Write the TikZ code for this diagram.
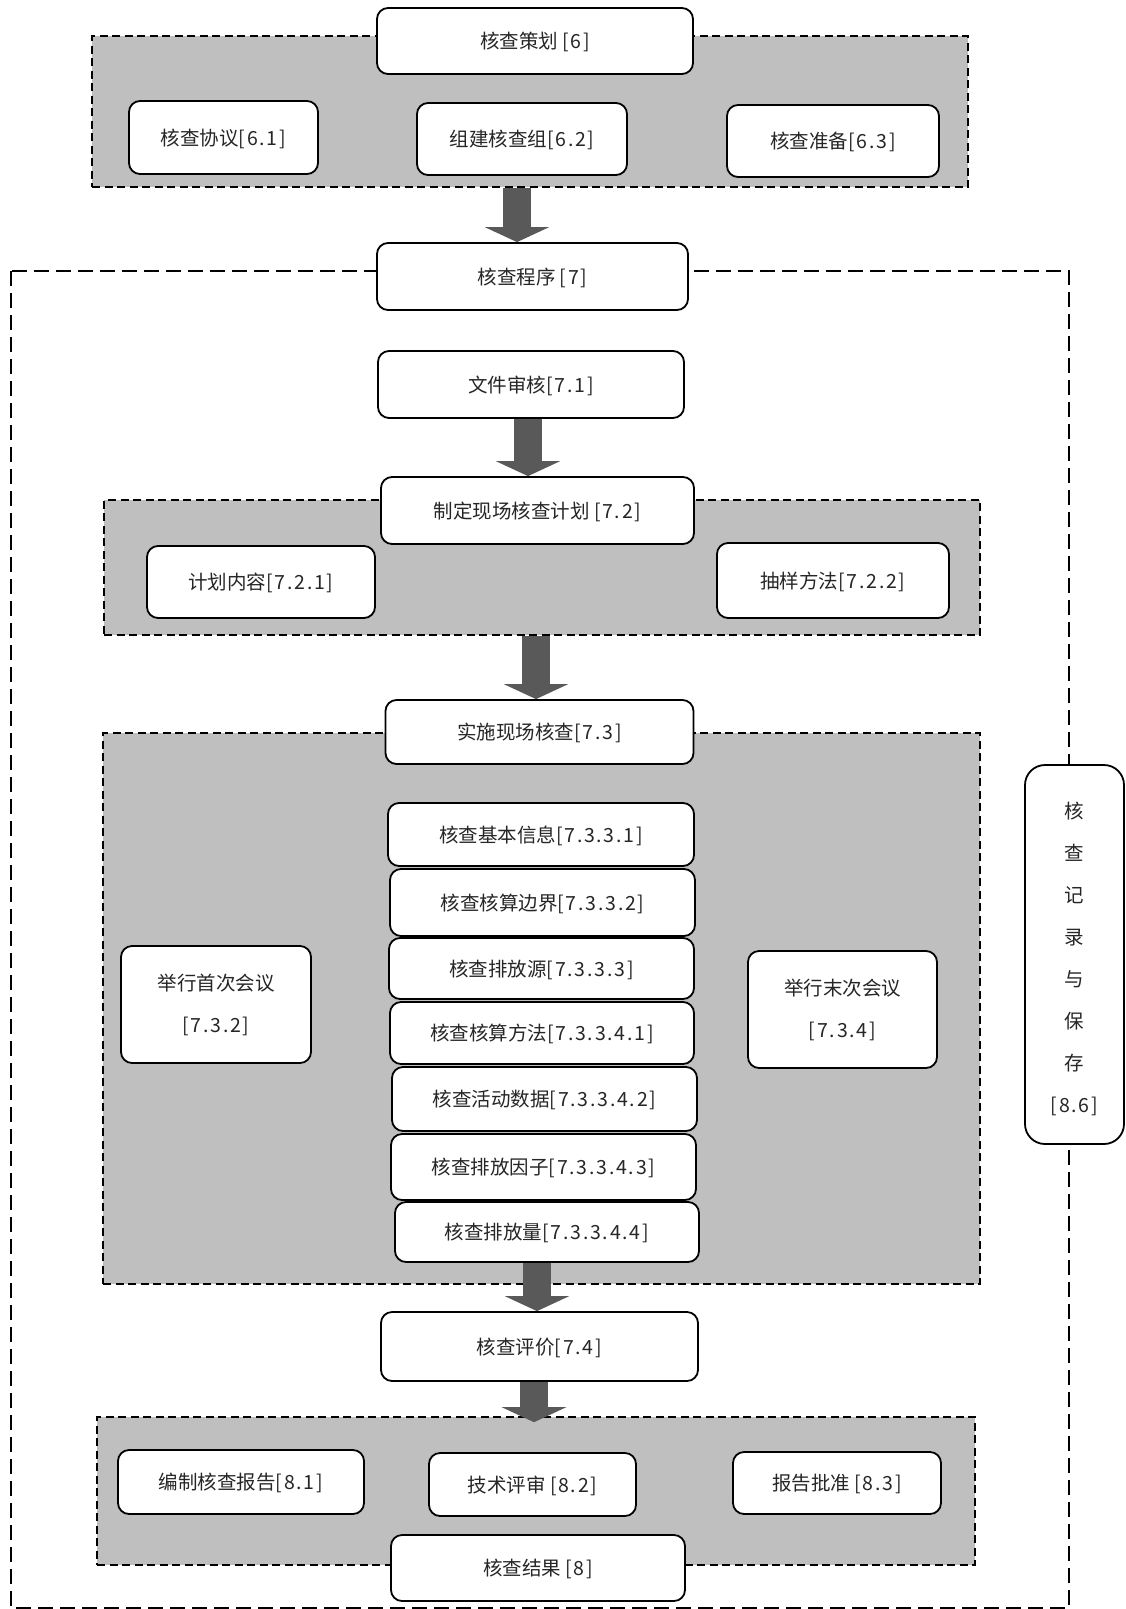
\documentclass[tikz,border=0pt]{standalone}
\usepackage{fontspec}
\setmainfont{Noto Sans CJK SC}
\newfontfamily\numfont[LetterSpace=9]{Noto Sans CJK SC}
\newcommand\numtxt[1]{{\numfont #1}}
\usetikzlibrary{arrows.meta}
\definecolor{panelgray}{HTML}{BFBFBF}
\definecolor{arrowgray}{HTML}{595959}
\definecolor{txt}{HTML}{262626}
\begin{document}
\begin{tikzpicture}[x=1pt,y=-1pt,
  rbox/.style={draw=black, line width=1.8pt, fill=white, rounded corners=11pt, inner sep=0pt,
    font=\fontsize{19.5}{24}\selectfont, text=txt, align=center},
  box/.style={rbox, text height=1.56em, text depth=0pt},
  tallbox/.style={rbox, font=\fontsize{19.5}{42}\selectfont},
  panel/.style={draw=black, line width=1.6pt, fill=panelgray, dash pattern=on 8pt off 4.5pt, inner sep=0pt},
  outerbox/.style={draw=black, line width=1.6pt, dash pattern=on 15pt off 7pt},
  bigarrow/.style={draw=arrowgray, line width=28pt, -{Triangle[length=15pt,width=64pt]}},
]
\useasboundingbox (0,0) rectangle (1126,1609);

% outer dashed frame
\draw[outerbox] (11,271) rectangle (1069,1608);

% gray panels
\node[panel, minimum width=876, minimum height=151] (p1) at (530,111.5) {};
\node[panel, minimum width=876, minimum height=135] (p2) at (542,567.5) {};
\node[panel, minimum width=877, minimum height=551] (p3) at (541.5,1008.5) {};
\node[panel, minimum width=878, minimum height=148] (p4) at (536,1491) {};

% arrow axes
\coordinate (ax1) at (517,0);
\coordinate (ax2) at (528,0);
\coordinate (ax3) at (536,0);
\coordinate (ax4) at (537,0);
\coordinate (ax5) at (534,0);

% planning
\node[box, minimum width=316, minimum height=66] (plan) at (535,41) {核查策划 \numtxt{[6]}};
\node[box, minimum width=189, minimum height=73] (a61) at (223.5,137.5) {核查协议\numtxt{[6.1]}};
\node[box, minimum width=210, minimum height=72] (a62) at (522,139) {组建核查组\numtxt{[6.2]}};
\node[box, minimum width=212, minimum height=72] (a63) at (833,141) {核查准备\numtxt{[6.3]}};

% procedure
\node[box, minimum width=311, minimum height=67] (prog) at (532.5,276.5) {核查程序 \numtxt{[7]}};
\node[box, minimum width=306, minimum height=67] (doc) at (531,384.5) {文件审核\numtxt{[7.1]}};
\node[box, minimum width=313, minimum height=67] (site) at (537.5,510.5) {制定现场核查计划 \numtxt{[7.2]}};
\node[box, minimum width=228, minimum height=72] (c721) at (261,582) {计划内容\numtxt{[7.2.1]}};
\node[box, minimum width=232, minimum height=75] (c722) at (833,580.5) {抽样方法\numtxt{[7.2.2]}};

\node[box, minimum width=308, minimum height=64] (impl) at (539.5,732) {实施现场核查\numtxt{[7.3]}};
\node[box, minimum width=306, minimum height=63] (s1) at (541,834.5) {核查基本信息\numtxt{[7.3.3.1]}};
\node[box, minimum width=305, minimum height=67] (s2) at (542.5,902.5) {核查核算边界\numtxt{[7.3.3.2]}};
\node[box, minimum width=305, minimum height=61] (s3) at (541.5,968.5) {核查排放源\numtxt{[7.3.3.3]}};
\node[box, minimum width=304, minimum height=62] (s4) at (542,1033) {核查核算方法\numtxt{[7.3.3.4.1]}};
\node[box, minimum width=305, minimum height=64] (s5) at (544.5,1099) {核查活动数据\numtxt{[7.3.3.4.2]}};
\node[box, minimum width=305, minimum height=66] (s6) at (543.5,1167) {核查排放因子\numtxt{[7.3.3.4.3]}};
\node[box, minimum width=304, minimum height=60] (s7) at (547,1232) {核查排放量\numtxt{[7.3.3.4.4]}};

\node[tallbox, minimum width=190, minimum height=117] (first) at (216,1004.5) {举行首次会议\\\numtxt{[7.3.2]}};
\node[tallbox, minimum width=189, minimum height=117] (last) at (842.5,1009.5) {举行末次会议\\\numtxt{[7.3.4]}};

\node[tallbox, rounded corners=20pt, minimum width=99, minimum height=379] (rec) at (1074.5,954.5) {\rule{0pt}{25pt}核\\查\\记\\录\\与\\保\\存\\\numtxt{[8.6]}};

\node[box, minimum width=317, minimum height=69] (eval) at (539.5,1346.5) {核查评价\numtxt{[7.4]}};

% results
\node[box, minimum width=246, minimum height=64] (r81) at (241,1482) {编制核查报告\numtxt{[8.1]}};
\node[box, minimum width=207, minimum height=63] (r82) at (532.5,1484.5) {技术评审 \numtxt{[8.2]}};
\node[box, minimum width=208, minimum height=62] (r83) at (837,1483) {报告批准 \numtxt{[8.3]}};
\node[box, minimum width=294, minimum height=66] (result) at (538,1568) {核查结果 \numtxt{[8]}};

% block arrows
\coordinate (t5) at ([yshift=-6pt]p4.north);
\draw[bigarrow] (ax1 |- p1.south) -- (ax1 |- prog.north);
\draw[bigarrow] (ax2 |- doc.south) -- (ax2 |- site.north);
\draw[bigarrow] (ax3 |- p2.south) -- (ax3 |- impl.north);
\draw[bigarrow] (ax4 |- s7.south) -- (ax4 |- eval.north);
\draw[bigarrow] (ax5 |- eval.south) -- (ax5 |- t5);
\end{tikzpicture}
\end{document}
